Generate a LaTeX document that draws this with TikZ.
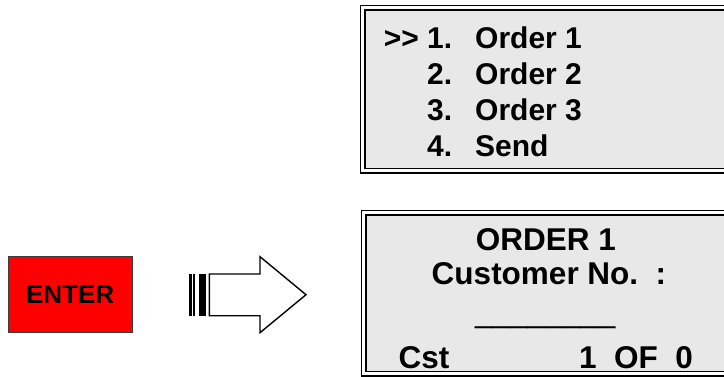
\documentclass[tikz,border=0pt]{standalone}
\usepackage{fontspec}
\setmainfont{Liberation Sans}
\usetikzlibrary{positioning}
\definecolor{lcdgray}{RGB}{232,232,232}
\definecolor{keyred}{RGB}{255,0,0}
\definecolor{keyrim}{RGB}{60,60,60}

\tikzset{
  screen/.style={rectangle, draw=black, fill=lcdgray, line width=1.5pt, double=white, double distance=3pt, inner sep=0pt, outer sep=0pt, anchor=north west},
  lcd/.style={inner sep=0pt, anchor=base west, font=\fontsize{30}{36}\selectfont\bfseries},
  lcdbig/.style={inner sep=0pt, anchor=base west, font=\fontsize{31.5}{38}\selectfont\bfseries},
  keybox/.style={rectangle, draw=keyrim, fill=keyred, line width=1pt, minimum width=123.7pt, minimum height=76pt, font=\fontsize{26}{30}\selectfont\bfseries}
}

\begin{document}
\begin{tikzpicture}[x=1pt,y=-1pt]
		\useasboundingbox (0,0) rectangle (724,376);
		\clip (0,0) rectangle (724,376);
		
		% menu screen
		\node[screen, minimum width=372.5pt, minimum height=163pt] (menu) at (362.5,7.5) {};
		\node[lcd] (rowA) at (427,48) {\makebox[48pt][l]{1.}Order 1};
		\node[lcd] (rowB) at (427,84) {\makebox[48pt][l]{2.}Order 2};
		\node[lcd] (rowC) at (427,120) {\makebox[48pt][l]{3.}Order 3};
		\node[lcd] (rowD) at (427,156) {\makebox[48pt][l]{4.}Send};
		\node[lcd, anchor=base east] (cursor) at ([xshift=-8pt]rowA.base west) {>{}>};
		
		% order screen
		\node[screen, minimum width=371.5pt, minimum height=161pt] (order) at (363.5,212.5) {};
		\node[lcdbig, anchor=base] (title) at (546,250) {ORDER 1};
		\node[lcdbig, anchor=base] (prompt) at (549,284) {Customer No.\ \ :};
		\node[lcdbig, font=\fontsize{31.5}{38}\selectfont] (blank) at (475,322) {\_\_\_\_\_\_\_\_};
		\node[lcdbig] (cst) at (398.5,368.5) {Cst};
		\node[lcdbig, anchor=base east] (count) at (693,368.5) {1\ \ OF\ \ 0};
		
		% enter key
		\node[keybox] (enter) at (70.2,294.7) {ENTER};
		
		% striped block arrow
		\fill (188.7,274) rectangle (192,315.7);
		\fill (193.2,274) rectangle (195,315.7);
		\fill (199.3,274) rectangle (206,315.7);
		\draw[line width=1.4pt, fill=white, line join=miter] (209.3,274) -- (260,274) -- (260,256.7) -- (306,294.7) -- (260,332.7) -- (260,315.7) -- (209.3,315.7) -- cycle;
		
\end{tikzpicture}
\end{document}
